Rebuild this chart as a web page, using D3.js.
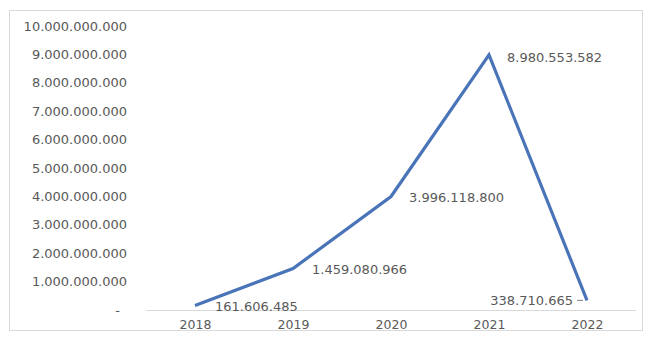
<!DOCTYPE html>
<html>
<head>
<meta charset="utf-8">
<script src="https://cdn.jsdelivr.net/npm/d3@7"></script>
<style>
  body { margin: 0; background: #fff; }
  text { font-family: "DejaVu Sans", sans-serif; fill: #595959; }
</style>
</head>
<body>
<div id="chart"></div>
<script>
const years = ["2018", "2019", "2020", "2021", "2022"];
const values = [161606485, 1459080966, 3996118800, 8980553582, 338710665];
const yTicks = [0, 1e9, 2e9, 3e9, 4e9, 5e9, 6e9, 7e9, 8e9, 9e9, 1e10];

const width = 647, height = 339;
const margin = { top: 26, right: 11, bottom: 29, left: 146 };

const locale = d3.formatLocale({ decimal: ",", thousands: ".", grouping: [3], currency: ["", ""] });
const fmt = locale.format(",d");

const svg = d3.select("#chart").append("svg")
  .attr("width", width)
  .attr("height", height);

// chart frame
svg.append("rect")
  .attr("x", 9.5).attr("y", 10.5)
  .attr("width", 633).attr("height", 320)
  .attr("fill", "none")
  .attr("stroke", "#d9d9d9");

const x = d3.scalePoint()
  .domain(years)
  .range([margin.left, width - margin.right])
  .padding(0.5);

const y = d3.scaleLinear()
  .domain([0, 1e10])
  .range([height - margin.bottom, margin.top]);

// y axis labels (no line)
const yAxis = svg.append("g")
  .attr("transform", `translate(${margin.left - 19},0)`)
  .call(d3.axisLeft(y).tickValues(yTicks).tickSize(0).tickPadding(0)
    .tickFormat(d => d === 0 ? "-" : fmt(d)));
yAxis.select(".domain").remove();
yAxis.selectAll("text")
  .style("font-size", "13px")
  .attr("fill", "#595959")
  .attr("dx", d => d === 0 ? -7 : 0);

// x axis
const xAxis = svg.append("g")
  .attr("transform", `translate(0,${y(0)})`)
  .call(d3.axisBottom(x).tickSize(0).tickPadding(10));
xAxis.select(".domain")
  .attr("stroke", "#d9d9d9")
  .attr("d", `M${margin.left},0.5H${width - margin.right}`);
xAxis.selectAll("text")
  .style("font-size", "12.5px")
  .attr("fill", "#595959");

// line
const line = d3.line()
  .x((d, i) => x(years[i]))
  .y(d => y(d));

svg.append("path")
  .datum(values)
  .attr("d", line)
  .attr("fill", "none")
  .attr("stroke", "#4a74b8")
  .attr("stroke-width", 3.2)
  .attr("stroke-linejoin", "miter");

// data labels
const labelOffsets = [
  { dx: 20, dy: 1, anchor: "start" },
  { dx: 19, dy: 1, anchor: "start" },
  { dx: 18, dy: 1, anchor: "start" },
  { dx: 18, dy: 2, anchor: "start" },
  { dx: -14, dy: 0, anchor: "end" }
];

svg.append("g")
  .selectAll("text")
  .data(values)
  .join("text")
  .attr("x", (d, i) => x(years[i]) + labelOffsets[i].dx)
  .attr("y", (d, i) => y(d) + labelOffsets[i].dy)
  .attr("dy", "0.35em")
  .attr("text-anchor", (d, i) => labelOffsets[i].anchor)
  .style("font-size", "13px")
  .text(d => fmt(d));

// leader for last label
svg.append("line")
  .attr("x1", x(years[4]) - 10).attr("x2", x(years[4]) - 4)
  .attr("y1", y(values[4])).attr("y2", y(values[4]))
  .attr("stroke", "#7f7f7f")
  .attr("stroke-width", 1);
</script>
</body>
</html>
